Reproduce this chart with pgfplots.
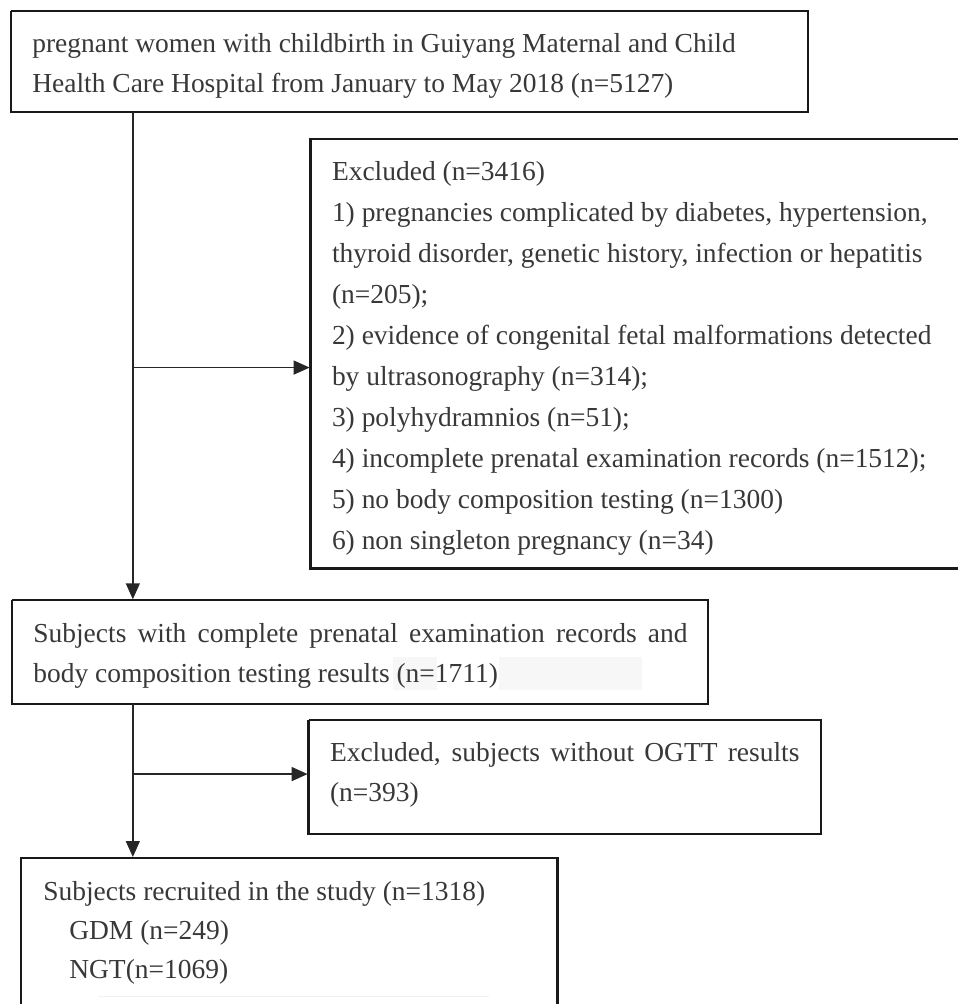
\documentclass[border=0pt]{standalone}
\usepackage{pgfplots}
\pgfplotsset{compat=1.18}
\usepackage{fontspec}
\setmainfont{Liberation Serif}
\usetikzlibrary{arrows.meta}
\definecolor{txt}{HTML}{383838}
\tikzset{
  t/.style={anchor=base west, inner sep=0pt, text=txt, font=\fontsize{13.75}{16}\selectfont},
  box/.style={black!90, line width=1.2pt, line join=miter, mark=none},
  arr/.style={black!85, line width=0.75pt, mark=none, -{Triangle[length=8pt,width=7pt]}}}
\begin{document}
\begin{tikzpicture}
\begin{axis}[scale only axis, width=479.5pt, height=502.5pt,
  xmin=0, xmax=959, ymin=0, ymax=1005, y dir=reverse,
  axis lines=none, ticks=none, clip=false]
\path (axis cs:0,0) rectangle (axis cs:959,1005);
% faint artefacts
\fill[gray!6] (axis cs:393,658) rectangle (axis cs:438,691);
\fill[gray!6] (axis cs:500,658) rectangle (axis cs:643,691);
\draw[gray!12, line width=0.6pt] (axis cs:98,998) -- (axis cs:490,998);
% boxes
\addplot[box] coordinates {(11,11) (809,11) (809,112) (11,112) (11,11)};
\addplot[box] coordinates {(959,139) (311,139) (311,569) (959,569)};
\addplot[box] coordinates {(12,601) (709,601) (709,705) (12,705) (12,601)};
\addplot[box] coordinates {(309,721) (822,721) (822,835) (309,835) (309,721)};
\addplot[box] coordinates {(21,1005) (21,859) (558,859) (558,1005)};
% arrows
\addplot[arr] coordinates {(133,112) (133,600)};
\addplot[arr] coordinates {(133,368) (310,368)};
\addplot[arr] coordinates {(133,705) (133,858)};
\addplot[arr] coordinates {(133,775) (308,775)};
% box 1
\node[t] at (axis cs:32,53) {pregnant women with childbirth in Guiyang Maternal and Child};
\node[t] at (axis cs:32,93) {Health Care Hospital from January to May 2018 (n=5127)};
% box 2
\node[t] at (axis cs:332,181) {Excluded (n=3416)};
\node[t] at (axis cs:332,222) {1) pregnancies complicated by diabetes, hypertension,};
\node[t] at (axis cs:332,263) {thyroid disorder, genetic history, infection or hepatitis};
\node[t] at (axis cs:332,304) {(n=205);};
\node[t] at (axis cs:332,345) {2) evidence of congenital fetal malformations detected};
\node[t] at (axis cs:332,386) {by ultrasonography (n=314);};
\node[t] at (axis cs:332,427) {3) polyhydramnios (n=51);};
\node[t] at (axis cs:332,468) {4) incomplete prenatal examination records (n=1512);};
\node[t] at (axis cs:332,509) {5) no body composition testing (n=1300)};
\node[t] at (axis cs:332,550) {6) non singleton pregnancy (n=34)};
% box 3
\node[t] at (axis cs:33,643) {\makebox[327.5pt][s]{Subjects with complete prenatal examination records and}};
\node[t] at (axis cs:33,683) {body composition testing results (n=1711)};
% box 4
\node[t] at (axis cs:330,762) {\makebox[235pt][s]{Excluded, subjects without OGTT results}};
\node[t] at (axis cs:330,802) {(n=393)};
% box 5
\node[t] at (axis cs:43,902) {Subjects recruited in the study (n=1318)};
\node[t] at (axis cs:69,941) {GDM (n=249)};
\node[t] at (axis cs:69,980) {NGT(n=1069)};
\end{axis}
\end{tikzpicture}
\end{document}
